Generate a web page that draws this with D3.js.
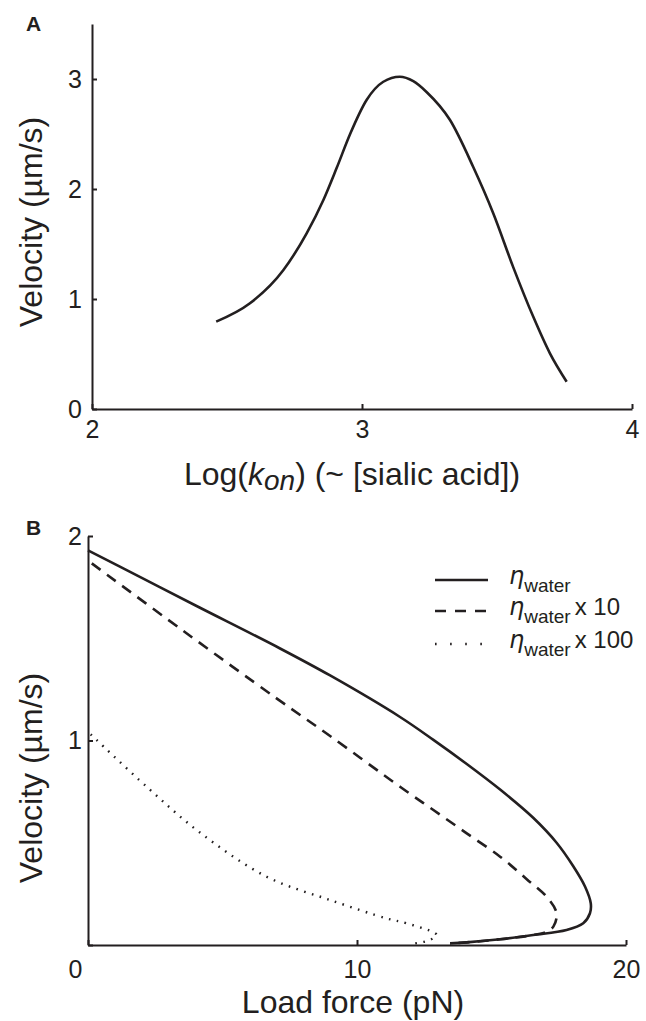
<!DOCTYPE html>
<html>
<head>
<meta charset="utf-8">
<script src="https://cdn.jsdelivr.net/npm/d3@7"></script>
<style>
  body { margin: 0; background: #fff; }
  svg { display: block; font-family: "Liberation Sans", Arial, sans-serif; }
  .axis path, .axis line { stroke: #231f20; stroke-width: 2; }
  .axis text { fill: #231f20; font-size: 25px; font-family: "Liberation Sans", Arial, sans-serif; }
</style>
</head>
<body>
<div id="chart"></div>
<script>
// panel A data
var aLogKon = [2.46, 2.585, 2.709, 2.795, 2.857, 2.906, 2.956, 3.017, 3.079, 3.14, 3.19, 3.24, 3.326, 3.412, 3.486, 3.56, 3.634, 3.696, 3.758];
var aVelocity = [0.794, 0.961, 1.264, 1.597, 1.90, 2.19, 2.50, 2.809, 2.975, 3.02, 2.98, 2.88, 2.627, 2.20, 1.78, 1.29, 0.84, 0.506, 0.248];
var aXTicks = [2, 3, 4];
var aYTicks = [0, 1, 2, 3];

// panel B data (force, velocity) for each viscosity
var waterForce = [0, 2, 4, 7.14, 9.0, 11.6, 12.84, 14.08, 15.32, 16.55, 17.42, 18.04, 18.48, 18.69, 18.66, 18.41, 17.79, 16.55, 15.32, 14.08, 13.46];
var waterVel   = [1.93, 1.795, 1.66, 1.45, 1.318, 1.115, 1.003, 0.885, 0.76, 0.622, 0.5, 0.385, 0.285, 0.204, 0.155, 0.106, 0.073, 0.049, 0.028, 0.013, 0.008];
var water10Force = [0.14, 3.5, 7.01, 9.0, 11.6, 12.84, 14.08, 15.32, 16.31, 17.05, 17.42, 17.3, 17.05, 16.55, 15.32, 14.08, 13.46];
var water10Vel   = [1.866, 1.54, 1.206, 1.022, 0.774, 0.66, 0.546, 0.432, 0.322, 0.236, 0.155, 0.09, 0.065, 0.049, 0.028, 0.013, 0.008];
var water100Force = [0.1, 2.18, 4.16, 6.64, 9.0, 11.1, 11.85, 12.96, 12.7, 12.16];
var water100Vel   = [1.03, 0.774, 0.55, 0.334, 0.22, 0.13, 0.106, 0.049, 0.024, 0.008];
var bXTicks = [0, 10, 20];
var bYTicks = [0, 1, 2];
var legendLabels = ["", "x 10", "x 100"];

var ink = "#231f20";
var width = 646, height = 1021;

var svg = d3.select("#chart").append("svg")
    .attr("width", width)
    .attr("height", height);

function zip(xs, ys) {
  return xs.map(function(d, i) { return [d, ys[i]]; });
}

// ---------- panel A ----------
var xA = d3.scaleLinear().domain([2, 4]).range([92, 632]);
var yA = d3.scaleLinear().domain([0, 3.5]).range([409, 24]);

svg.append("g")
    .attr("class", "axis")
    .attr("transform", "translate(0," + yA(0) + ")")
    .call(d3.axisBottom(xA).tickValues(aXTicks).tickFormat(d3.format("d"))
      .tickSizeInner(-5).tickSizeOuter(0).tickPadding(11));

svg.append("g")
    .attr("class", "axis")
    .attr("transform", "translate(" + xA(2) + ",0)")
    .call(d3.axisLeft(yA).tickValues(aYTicks).tickFormat(d3.format("d"))
      .tickSizeInner(-5).tickSizeOuter(0).tickPadding(10));

svg.append("path")
    .datum(zip(aLogKon, aVelocity))
    .attr("fill", "none")
    .attr("stroke", ink)
    .attr("stroke-width", 2.6)
    .attr("d", d3.line()
      .x(function(d) { return xA(d[0]); })
      .y(function(d) { return yA(d[1]); })
      .curve(d3.curveMonotoneX));

svg.append("text")
    .attr("x", 26).attr("y", 31)
    .attr("font-weight", 700)
    .style("font-size", "21px")
    .attr("fill", ink)
    .text("A");

svg.append("text")
    .attr("transform", "translate(42,222)rotate(-90)")
    .attr("text-anchor", "middle")
    .style("font-size", "32px")
    .attr("fill", ink)
    .text("Velocity (\u00b5m/s)");

var xLabA = svg.append("text")
    .attr("x", 352).attr("y", 485)
    .attr("text-anchor", "middle")
    .style("font-size", "32px")
    .attr("fill", ink);
xLabA.append("tspan").text("Log(");
xLabA.append("tspan").attr("font-style", "italic").text("k");
xLabA.append("tspan").attr("font-style", "italic").attr("dy", 5).style("font-size", "28px").text("on");
xLabA.append("tspan").attr("dy", -5).text(") (~ [sialic acid])");

// ---------- panel B ----------
var xB = d3.scaleLinear().domain([0, 20]).range([88, 626]);
var yB = d3.scaleLinear().domain([0, 2]).range([945, 536]);

var xAxisB = svg.append("g")
    .attr("class", "axis")
    .attr("transform", "translate(0," + yB(0) + ")")
    .call(d3.axisBottom(xB).tickValues(bXTicks).tickFormat(d3.format("d"))
      .tickSizeInner(-5).tickSizeOuter(0).tickPadding(15));
xAxisB.selectAll(".tick text")
    .filter(function(d) { return d === 0; })
    .attr("dx", -13);

svg.append("g")
    .attr("class", "axis")
    .attr("transform", "translate(" + xB(0) + ",0)")
    .call(d3.axisLeft(yB).tickValues(bYTicks)
      .tickFormat(function(d) { return d === 0 ? "" : d; })
      .tickSizeInner(-5).tickSizeOuter(0).tickPadding(6));

var lineB = d3.line()
    .x(function(d) { return xB(d[0]); })
    .y(function(d) { return yB(d[1]); })
    .curve(d3.curveCatmullRom.alpha(0.5));

var seriesB = [
  {pts: zip(waterForce, waterVel), dash: null, legendDash: null, w: 2.6},
  {pts: zip(water10Force, water10Vel), dash: "11,8", legendDash: "11,9", w: 2.6},
  {pts: zip(water100Force, water100Vel), dash: "1.6,6.5", legendDash: "1.6,13.5", w: 2.4}
];

svg.selectAll(".curveB")
  .data(seriesB)
  .enter()
  .append("path")
    .attr("class", "curveB")
    .attr("fill", "none")
    .attr("stroke", ink)
    .attr("stroke-width", function(d) { return d.w; })
    .attr("stroke-dasharray", function(d) { return d.dash; })
    .attr("d", function(d) { return lineB(d.pts); });

// legend
var legendY = [580, 611, 644];
var legend = svg.selectAll(".legend")
  .data(seriesB)
  .enter()
  .append("g")
    .attr("class", "legend")
    .attr("transform", function(d, i) { return "translate(0," + legendY[i] + ")"; });

legend.append("line")
    .attr("x1", 435).attr("x2", 488)
    .attr("stroke", ink)
    .attr("stroke-width", function(d) { return d.w; })
    .attr("stroke-dasharray", function(d) { return d.legendDash; });

var legText = legend.append("text")
    .attr("x", 509).attr("y", 4)
    .attr("fill", ink)
    .style("font-size", "24px");
legText.append("tspan").attr("font-style", "italic").style("font-family", "'DejaVu Sans', sans-serif").text("\u03b7");
legText.append("tspan").attr("dy", 8).style("font-size", "19px").text("water");
legText.append("tspan").attr("dy", -8).attr("dx", 4).text(function(d, i) { return legendLabels[i]; });

svg.append("text")
    .attr("x", 26).attr("y", 535)
    .attr("font-weight", 700)
    .style("font-size", "21px")
    .attr("fill", ink)
    .text("B");

svg.append("text")
    .attr("transform", "translate(42,778)rotate(-90)")
    .attr("text-anchor", "middle")
    .style("font-size", "32px")
    .attr("fill", ink)
    .text("Velocity (\u00b5m/s)");

svg.append("text")
    .attr("x", 353).attr("y", 1013)
    .attr("text-anchor", "middle")
    .style("font-size", "32px")
    .attr("fill", ink)
    .text("Load force (pN)");
</script>
</body>
</html>
